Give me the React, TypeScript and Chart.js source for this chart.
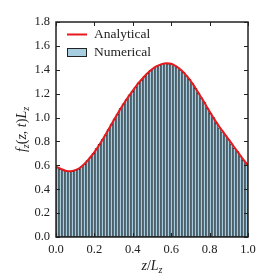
import { useEffect, useRef } from 'react';
import { Chart, registerables } from 'chart.js';
Chart.register(...registerables);

// Histogram (numerical) values, 64 equal bins on [0, 1]
const binEdgesMin = 0;
const binEdgesMax = 1;
const numericalValues = [
  0.58, 0.57, 0.56, 0.555, 0.55, 0.55, 0.56, 0.57, 0.59, 0.61, 0.64, 0.67, 0.70, 0.74, 0.775, 0.815,
  0.855, 0.90, 0.945, 0.99, 1.03, 1.075, 1.115, 1.15, 1.19, 1.22, 1.255, 1.29, 1.315, 1.345, 1.37, 1.395,
  1.41, 1.43, 1.44, 1.45, 1.455, 1.45, 1.45, 1.435, 1.42, 1.40, 1.38, 1.35, 1.32, 1.285, 1.245, 1.205,
  1.165, 1.125, 1.08, 1.035, 1.00, 0.955, 0.915, 0.88, 0.85, 0.815, 0.78, 0.745, 0.715, 0.68, 0.645, 0.615,
];

// Analytical curve samples
const analyticalZ = [
  0.0, 0.025, 0.05, 0.075, 0.1, 0.125, 0.15, 0.175, 0.2, 0.225, 0.25, 0.275, 0.3, 0.325, 0.35, 0.375,
  0.4, 0.425, 0.45, 0.475, 0.5, 0.525, 0.55, 0.575, 0.6, 0.625, 0.65, 0.675, 0.7, 0.725, 0.75, 0.775,
  0.8, 0.825, 0.85, 0.875, 0.9, 0.925, 0.95, 0.975, 1.0,
];
const analyticalF = [
  0.59, 0.57, 0.555, 0.55, 0.56, 0.58, 0.615, 0.66, 0.71, 0.77, 0.835, 0.905, 0.975, 1.045, 1.11, 1.17,
  1.225, 1.28, 1.325, 1.37, 1.405, 1.43, 1.447, 1.455, 1.45, 1.43, 1.40, 1.36, 1.31, 1.25, 1.185, 1.12,
  1.05, 0.985, 0.925, 0.87, 0.815, 0.76, 0.705, 0.65, 0.60,
];

const xTicks = [0, 0.2, 0.4, 0.6, 0.8, 1.0];
const yTicks = [0, 0.2, 0.4, 0.6, 0.8, 1.0, 1.2, 1.4, 1.6, 1.8];
const legendLabels = ['Analytical', 'Numerical'];

const BAR_FILL = '#a6cde0';
const LINE_RED = '#e8191c';
const INK = '#222';
const SERIF = '"Liberation Serif", "DejaVu Serif", serif';

type Run = { t: string; it?: boolean; sub?: boolean };

function drawRuns(ctx: CanvasRenderingContext2D, runs: Run[], cx: number, cy: number, size: number) {
  const fontFor = (r: Run) => `${r.it ? 'italic ' : ''}${r.sub ? size * 0.72 : size}px ${SERIF}`;
  let total = 0;
  for (const r of runs) {
    ctx.font = fontFor(r);
    total += ctx.measureText(r.t).width;
  }
  let x = cx - total / 2;
  ctx.textBaseline = 'alphabetic';
  ctx.textAlign = 'left';
  const base = cy + size * 0.33;
  for (const r of runs) {
    ctx.font = fontFor(r);
    ctx.fillText(r.t, x, r.sub ? base + size * 0.22 : base);
    x += ctx.measureText(r.t).width;
  }
}

const decor = {
  id: 'decor',
  afterDraw(chart: any) {
    const { ctx, chartArea: a, scales } = chart;
    const xs = scales.x;
    const ys = scales.y;
    ctx.save();
    ctx.strokeStyle = INK;
    ctx.lineWidth = 1;
    const tl = 4;
    ctx.beginPath();
    for (const v of xTicks) {
      const px = Math.round(xs.getPixelForValue(v)) + 0.5;
      ctx.moveTo(px, a.bottom);
      ctx.lineTo(px, a.bottom - tl);
      ctx.moveTo(px, a.top);
      ctx.lineTo(px, a.top + tl);
    }
    for (const v of yTicks) {
      const py = Math.round(ys.getPixelForValue(v)) + 0.5;
      ctx.moveTo(a.left, py);
      ctx.lineTo(a.left + tl, py);
      ctx.moveTo(a.right, py);
      ctx.lineTo(a.right - tl, py);
    }
    ctx.stroke();
    ctx.lineWidth = 1.5;
    ctx.strokeRect(a.left, a.top, a.right - a.left, a.bottom - a.top);

    // legend
    const lx = a.left + 11;
    ctx.strokeStyle = LINE_RED;
    ctx.lineWidth = 2;
    ctx.beginPath();
    ctx.moveTo(lx, a.top + 12.5);
    ctx.lineTo(lx + 20, a.top + 12.5);
    ctx.stroke();
    ctx.fillStyle = BAR_FILL;
    ctx.fillRect(lx, a.top + 26.5, 20, 8);
    ctx.strokeStyle = INK;
    ctx.lineWidth = 1;
    ctx.strokeRect(lx + 0.5, a.top + 26.5, 19, 8);
    ctx.fillStyle = INK;
    ctx.font = `13.5px ${SERIF}`;
    ctx.textAlign = 'left';
    ctx.textBaseline = 'middle';
    ctx.fillText(legendLabels[0], lx + 27, a.top + 12.5);
    ctx.fillText(legendLabels[1], lx + 27, a.top + 30.5);

    // axis titles
    ctx.fillStyle = INK;
    drawRuns(ctx, [{ t: 'z', it: true }, { t: '/' }, { t: 'L', it: true }, { t: 'z', it: true, sub: true }],
      (a.left + a.right) / 2, 265, 14);
    ctx.save();
    ctx.translate(21, (a.top + a.bottom) / 2);
    ctx.rotate(-Math.PI / 2);
    drawRuns(ctx, [
      { t: 'f', it: true }, { t: 'z', it: true, sub: true }, { t: '(' }, { t: 'z', it: true },
      { t: ', ' }, { t: 't', it: true }, { t: ')' }, { t: 'L', it: true }, { t: 'z', it: true, sub: true },
    ], 0, 0, 14);
    ctx.restore();
    ctx.restore();
  },
};

export default function App() {
  const ref = useRef<HTMLCanvasElement>(null);
  useEffect(() => {
    document.body.style.margin = '0';
    const n = numericalValues.length;
    const w = (binEdgesMax - binEdgesMin) / n;
    const barData = numericalValues.map((v, i) => ({ x: binEdgesMin + (i + 0.5) * w, y: v }));
    const lineData = analyticalZ.map((z, i) => ({ x: z, y: analyticalF[i] }));
    const chart = new Chart(ref.current as HTMLCanvasElement, {
      type: 'bar',
      data: {
        datasets: [
          {
            type: 'line',
            label: legendLabels[0],
            data: lineData,
            borderColor: LINE_RED,
            borderWidth: 2,
            pointRadius: 0,
            tension: 0.4,
            order: 0,
          } as any,
          {
            type: 'bar',
            label: legendLabels[1],
            data: barData,
            backgroundColor: BAR_FILL,
            borderColor: '#000',
            borderWidth: 0.8,
            borderSkipped: false,
            barPercentage: 1,
            categoryPercentage: 1,
            order: 1,
          } as any,
        ],
      },
      options: {
        responsive: false,
        devicePixelRatio: 1,
        animation: false,
        layout: { padding: { left: 0, right: 14, top: 22, bottom: 0 } },
        plugins: { legend: { display: false }, tooltip: { enabled: false } },
        scales: {
          x: {
            type: 'linear',
            min: 0,
            max: 1,
            offset: false,
            grid: { display: false, drawTicks: false },
            border: { display: false },
            ticks: {
              stepSize: 0.2,
              padding: 5,
              color: INK,
              font: { family: SERIF, size: 12.5 },
              callback: (v: any) => Number(v).toFixed(1),
              maxRotation: 0,
            },
            afterFit: (s: any) => { s.height = 43; },
          },
          y: {
            min: 0,
            max: 1.8,
            grid: { display: false, drawTicks: false },
            border: { display: false },
            ticks: {
              stepSize: 0.2,
              padding: 6,
              color: INK,
              font: { family: SERIF, size: 12.5 },
              callback: (v: any) => Number(v).toFixed(1),
            },
            afterFit: (s: any) => { s.width = 56; },
          },
        },
      },
      plugins: [decor],
    });
    return () => chart.destroy();
  }, []);
  return <canvas ref={ref} width={262} height={280} style={{ display: 'block', width: 262, height: 280 }} />;
}
